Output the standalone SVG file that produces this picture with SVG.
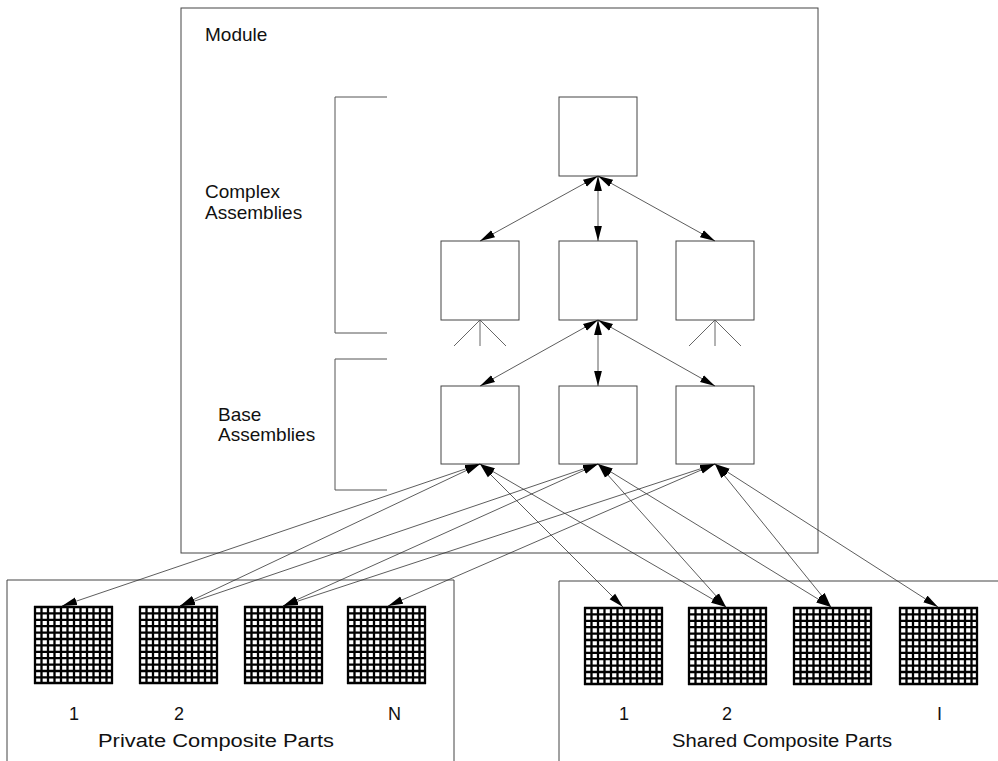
<svg xmlns="http://www.w3.org/2000/svg" xmlns:xlink="http://www.w3.org/1999/xlink" width="998" height="761" viewBox="0 0 998 761">
  <style>
    .frame { fill: none; stroke: #444; stroke-width: 1; }
    .box { fill: #fff; stroke: #444; stroke-width: 1; }
    .bracket { fill: none; stroke: #555; stroke-width: 1; }
    .fan { fill: none; stroke: #555; stroke-width: 0.9; }
    .link { fill: none; stroke: #333; stroke-width: 0.8; marker-start: url(#head); marker-end: url(#head); }
    .label { font-family: "Liberation Sans", Arial, Helvetica, sans-serif; font-size: 19px; fill: #111; }
    .num { font-family: "Liberation Sans", Arial, Helvetica, sans-serif; font-size: 18px; fill: #111; }
  </style>
  <defs>
    <marker id="head" viewBox="0 0 15 9" refX="15" refY="4.5" markerWidth="15" markerHeight="9" markerUnits="userSpaceOnUse" orient="auto-start-reverse">
      <path d="M0,0.6 L15,4.5 L0,8.4 Z" fill="#000"/>
    </marker>
    <!-- composite part: 12 x 12 mesh -->
    <g id="mesh">
      <rect x="0" y="0" width="79" height="78" fill="#fff"/>
      <path d="M1,0V78 M7.5,0V78 M14,0V78 M20.5,0V78 M27,0V78 M33.5,0V78 M40,0V78 M46.5,0V78 M53,0V78 M59.5,0V78 M66,0V78 M72.5,0V78 M78,0V78
               M0,1H79 M0,7.4H79 M0,13.8H79 M0,20.2H79 M0,26.6H79 M0,33H79 M0,39.4H79 M0,45.8H79 M0,52.2H79 M0,58.6H79 M0,65H79 M0,71.4H79 M0,77H79"
            fill="none" stroke="#000" stroke-width="2.3"/>
    </g>
  </defs>

  <rect width="998" height="761" fill="#fff"/>

  <!-- module frame -->
  <g id="module">
    <rect class="frame" x="181" y="8" width="637" height="545"/>
    <text class="label" x="205" y="41">Module</text>
  </g>

  <!-- level brackets -->
  <g id="complex-assemblies">
    <path class="bracket" d="M387,97 H335 V333 H387"/>
    <text class="label" x="205" y="198">Complex</text>
    <text class="label" x="205" y="219">Assemblies</text>
  </g>
  <g id="base-assemblies">
    <path class="bracket" d="M387,359 H335 V490 H387"/>
    <text class="label" x="218" y="421">Base</text>
    <text class="label" x="218" y="441">Assemblies</text>
  </g>

  <!-- assembly nodes -->
  <g id="root-assembly"><rect class="box" x="559" y="97" width="78" height="79"/></g>
  <g id="complex-1">
    <rect class="box" x="441" y="241" width="78" height="79"/>
    <path class="fan" d="M480,320 L454,346 M480,320 V346 M480,320 L506,346"/>
  </g>
  <g id="complex-2"><rect class="box" x="559" y="241" width="78" height="79"/></g>
  <g id="complex-3">
    <rect class="box" x="676" y="241" width="78" height="79"/>
    <path class="fan" d="M715,320 L689,346 M715,320 V346 M715,320 L741,346"/>
  </g>
  <g id="base-1"><rect class="box" x="441" y="386" width="78" height="78"/></g>
  <g id="base-2"><rect class="box" x="559" y="386" width="78" height="78"/></g>
  <g id="base-3"><rect class="box" x="676" y="386" width="78" height="78"/></g>

  <!-- private composite parts -->
  <g id="private-parts">
    <path class="frame" d="M7,761 V580 H454 V761"/>
    <use xlink:href="#mesh" x="34" y="606"/>
    <use xlink:href="#mesh" x="139" y="606"/>
    <use xlink:href="#mesh" x="244" y="606"/>
    <use xlink:href="#mesh" x="347" y="606"/>
    <text class="num" x="69" y="720">1</text>
    <text class="num" x="174" y="720">2</text>
    <text class="num" x="388" y="720">N</text>
    <text class="num" x="98" y="747" textLength="236" lengthAdjust="spacingAndGlyphs">Private Composite Parts</text>
  </g>

  <!-- shared composite parts -->
  <g id="shared-parts">
    <path class="frame" d="M559,761 V581 H998"/>
    <use xlink:href="#mesh" x="584" y="607"/>
    <use xlink:href="#mesh" x="688" y="607"/>
    <use xlink:href="#mesh" x="793" y="607"/>
    <use xlink:href="#mesh" x="899" y="607"/>
    <text class="num" x="619" y="720">1</text>
    <text class="num" x="722" y="720">2</text>
    <text class="num" x="937" y="720">I</text>
    <text class="num" x="672" y="747" textLength="220" lengthAdjust="spacingAndGlyphs">Shared Composite Parts</text>
  </g>

  <!-- connectors -->
  <g id="connectors">
    <line class="link" x1="598" y1="176" x2="480" y2="241"/>
    <line class="link" x1="598" y1="176" x2="598" y2="241"/>
    <line class="link" x1="598" y1="176" x2="715" y2="241"/>
    <line class="link" x1="598" y1="320" x2="480" y2="386"/>
    <line class="link" x1="598" y1="320" x2="598" y2="386"/>
    <line class="link" x1="598" y1="320" x2="715" y2="386"/>

    <line class="link" x1="480" y1="464" x2="62" y2="606"/>
    <line class="link" x1="480" y1="464" x2="180" y2="606"/>
    <line class="link" x1="598" y1="464" x2="180" y2="606"/>
    <line class="link" x1="598" y1="464" x2="283" y2="606"/>
    <line class="link" x1="715" y1="464" x2="283" y2="606"/>
    <line class="link" x1="715" y1="464" x2="388" y2="606"/>

    <line class="link" x1="480" y1="464" x2="623" y2="607"/>
    <line class="link" x1="480" y1="464" x2="726" y2="607"/>
    <line class="link" x1="598" y1="464" x2="726" y2="607"/>
    <line class="link" x1="598" y1="464" x2="831" y2="607"/>
    <line class="link" x1="715" y1="464" x2="831" y2="607"/>
    <line class="link" x1="715" y1="464" x2="938" y2="607"/>
  </g>
</svg>
